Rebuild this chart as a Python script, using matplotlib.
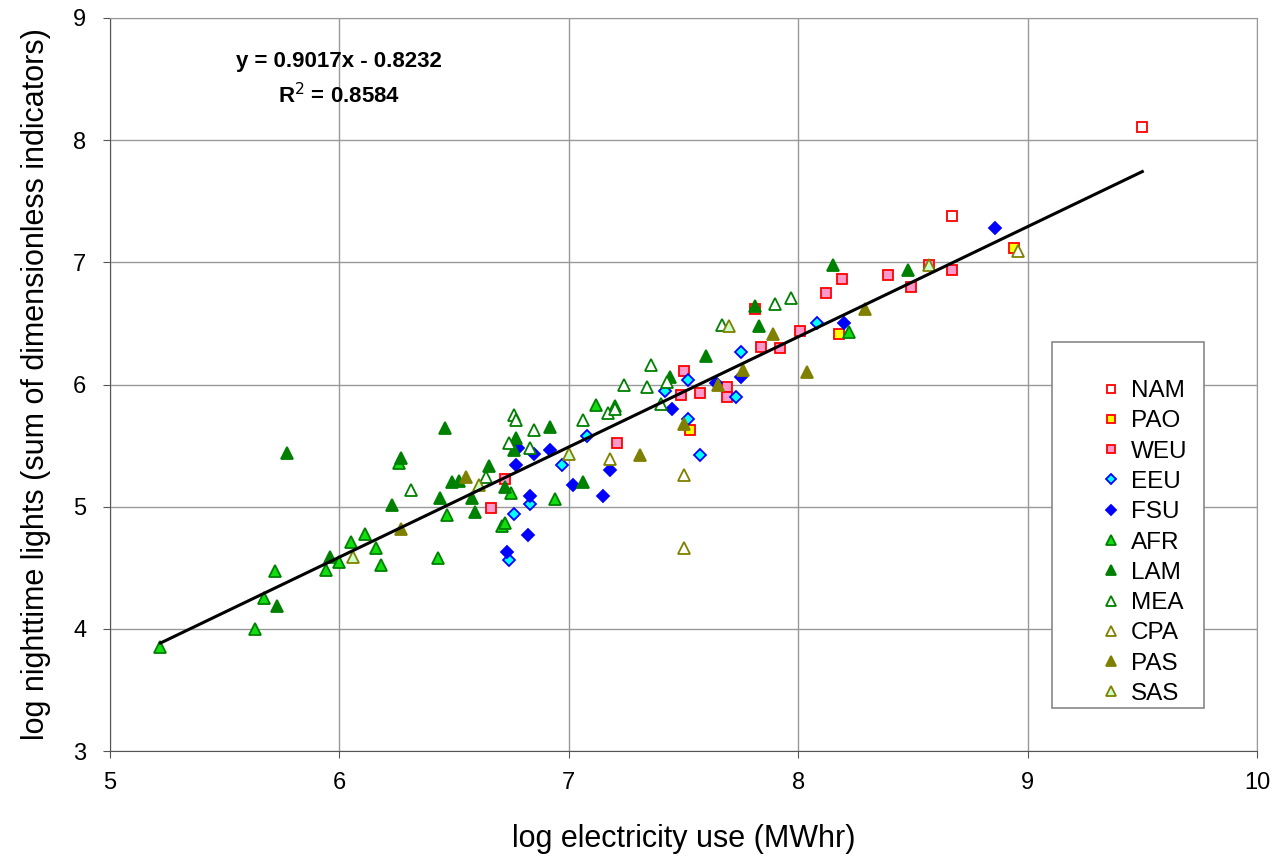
"""
log nighttime lights vs log electricity use, by world region
"""
import numpy as np
import matplotlib
matplotlib.use('Agg')
import matplotlib.pyplot as plt
from matplotlib.patches import Rectangle

plt.rcParams['font.family'] = ['Liberation Sans', 'DejaVu Sans']

# region data (x = log electricity use, y = log nighttime lights)
nam_x = [9.50, 8.67]
nam_y = [8.11, 7.38]
pao_x = [8.94, 8.18, 7.53]
pao_y = [7.12, 6.41, 5.63]
weu_x = [6.66, 6.72, 7.21, 7.49, 7.50, 7.57, 7.69, 7.69, 7.81, 7.84, 7.92, 8.01, 8.12, 8.19, 8.39, 8.49, 8.57, 8.67]
weu_y = [4.99, 5.23, 5.52, 5.91, 6.11, 5.93, 5.98, 5.90, 6.62, 6.31, 6.30, 6.44, 6.75, 6.86, 6.90, 6.80, 6.98, 6.94]
eeu_x = [6.74, 6.76, 6.83, 6.97, 7.08, 7.42, 7.52, 7.52, 7.57, 7.73, 7.75, 8.08]
eeu_y = [4.56, 4.94, 5.02, 5.34, 5.58, 5.95, 6.04, 5.72, 5.42, 5.90, 6.27, 6.50]
fsu_x = [6.73, 6.77, 6.78, 6.82, 6.83, 6.85, 6.92, 7.02, 7.15, 7.18, 7.45, 7.64, 7.75, 8.20, 8.86]
fsu_y = [4.63, 5.34, 5.48, 4.77, 5.09, 5.43, 5.46, 5.18, 5.09, 5.30, 5.80, 6.01, 6.06, 6.50, 7.28]
afr_x = [5.22, 5.63, 5.67, 5.72, 5.94, 6.00, 6.05, 6.11, 6.16, 6.18, 6.26, 6.43, 6.47, 6.71, 6.72, 6.75, 6.94, 7.12, 8.22]
afr_y = [3.85, 4.00, 4.25, 4.47, 4.48, 4.55, 4.71, 4.78, 4.66, 4.52, 5.36, 4.58, 4.93, 4.84, 4.87, 5.11, 5.06, 5.83, 6.43]
lam_x = [5.73, 5.77, 5.96, 6.23, 6.27, 6.44, 6.46, 6.49, 6.52, 6.58, 6.59, 6.65, 6.72, 6.76, 6.77, 6.92, 7.06, 7.20, 7.44, 7.60, 7.81, 7.83, 8.15, 8.48]
lam_y = [4.19, 5.44, 4.59, 5.01, 5.40, 5.07, 5.64, 5.20, 5.21, 5.07, 4.96, 5.33, 5.16, 5.46, 5.56, 5.65, 5.20, 5.82, 6.06, 6.23, 6.64, 6.48, 6.98, 6.94]
mea_x = [6.31, 6.64, 6.74, 6.76, 6.77, 6.83, 6.85, 7.06, 7.17, 7.20, 7.24, 7.34, 7.36, 7.40, 7.43, 7.67, 7.90, 7.97]
mea_y = [5.14, 5.24, 5.52, 5.75, 5.71, 5.48, 5.63, 5.71, 5.77, 5.80, 6.00, 5.98, 6.16, 5.84, 6.02, 6.49, 6.66, 6.71]
cpa_x = [7.18, 7.50, 7.50, 8.96]
cpa_y = [5.39, 5.26, 4.66, 7.09]
pas_x = [6.27, 6.55, 7.31, 7.50, 7.65, 7.76, 7.89, 8.04, 8.29]
pas_y = [4.82, 5.24, 5.42, 5.68, 6.00, 6.12, 6.41, 6.10, 6.62]
sas_x = [6.06, 6.61, 7.00, 7.70, 8.57]
sas_y = [4.59, 5.18, 5.43, 6.48, 6.98]

# linear trend as printed on the chart
slope = 0.9017
intercept = -0.8232

# name, x, y, marker, size, face, edge
series = [
    ('NAM', nam_x, nam_y, 's', 7.5, 'white', '#FF0000'),
    ('PAO', pao_x, pao_y, 's', 7.5, '#FFFF00', '#FF0000'),
    ('WEU', weu_x, weu_y, 's', 7.5, '#FF99CC', '#FF0000'),
    ('EEU', eeu_x, eeu_y, 'D', 6.5, '#00FFFF', '#0000FF'),
    ('FSU', fsu_x, fsu_y, 'D', 6.5, '#0000FF', '#0000FF'),
    ('AFR', afr_x, afr_y, '^', 9, '#11DD11', '#008000'),
    ('LAM', lam_x, lam_y, '^', 9, '#008000', '#008000'),
    ('MEA', mea_x, mea_y, '^', 9, 'white', '#008000'),
    ('CPA', cpa_x, cpa_y, '^', 9, 'white', '#808000'),
    ('PAS', pas_x, pas_y, '^', 9, '#808000', '#808000'),
    ('SAS', sas_x, sas_y, '^', 9, '#CCFFCC', '#808000'),
]

fig = plt.figure(figsize=(12.74, 8.57), dpi=100)
ax = fig.add_axes([110 / 1274, 106 / 857, 1147 / 1274, 733 / 857])

for name, xs, ys, mk, ms, fc, ec in series:
    ax.plot(xs, ys, linestyle='none', marker=mk, markersize=ms,
            markerfacecolor=fc, markeredgecolor=ec, markeredgewidth=1.3,
            label=name, zorder=3)

all_x = np.concatenate([s[1] for s in series])
lx = np.array([all_x.min(), all_x.max()])
ax.plot(lx, slope * lx + intercept, color='black', linewidth=2.2, zorder=4)

ax.set_xlim(5, 10)
ax.set_ylim(3, 9)
ax.set_xticks(range(5, 11))
ax.set_yticks(range(3, 10))
ax.grid(True, color='#999999', linewidth=1)
ax.set_axisbelow(True)
for side in ['top', 'right']:
    ax.spines[side].set_color('#999999')
for side in ['left', 'bottom']:
    ax.spines[side].set_color('#555555')
ax.tick_params(axis='both', labelsize=17, direction='out', length=5, color='#555555')
ax.tick_params(axis='x', pad=10)
ax.tick_params(axis='y', pad=12)
ax.set_xlabel('log electricity use (MWhr)', fontsize=22, labelpad=22)
ax.set_ylabel('log nighttime lights (sum of dimensionless indicators)', fontsize=22, labelpad=16)

ax.text(0.20, 0.940, 'y = 0.9017x - 0.8232', transform=ax.transAxes,
        ha='center', va='center', fontsize=16, fontweight='bold')
ax.text(0.20, 0.894, 'R$^2$ = 0.8584', transform=ax.transAxes,
        ha='center', va='center', fontsize=16, fontweight='bold')

# legend box like the spreadsheet one
box = Rectangle((1052 / 1274, (857 - 708) / 857), 152 / 1274, 366 / 857,
                transform=fig.transFigure, facecolor='white',
                edgecolor='#888888', linewidth=1.2, zorder=5, clip_on=False)
ax.add_patch(box)
leg = ax.legend(loc='upper left', bbox_to_anchor=(1087 / 1274, (857 - 368) / 857),
                bbox_transform=fig.transFigure, frameon=False, fontsize=17.5,
                handletextpad=0.3, labelspacing=0.34, borderpad=0, handlelength=1.0,
                markerscale=0.8)
leg.set_zorder(6)

fig.savefig('out.png', dpi=100, facecolor='white')
